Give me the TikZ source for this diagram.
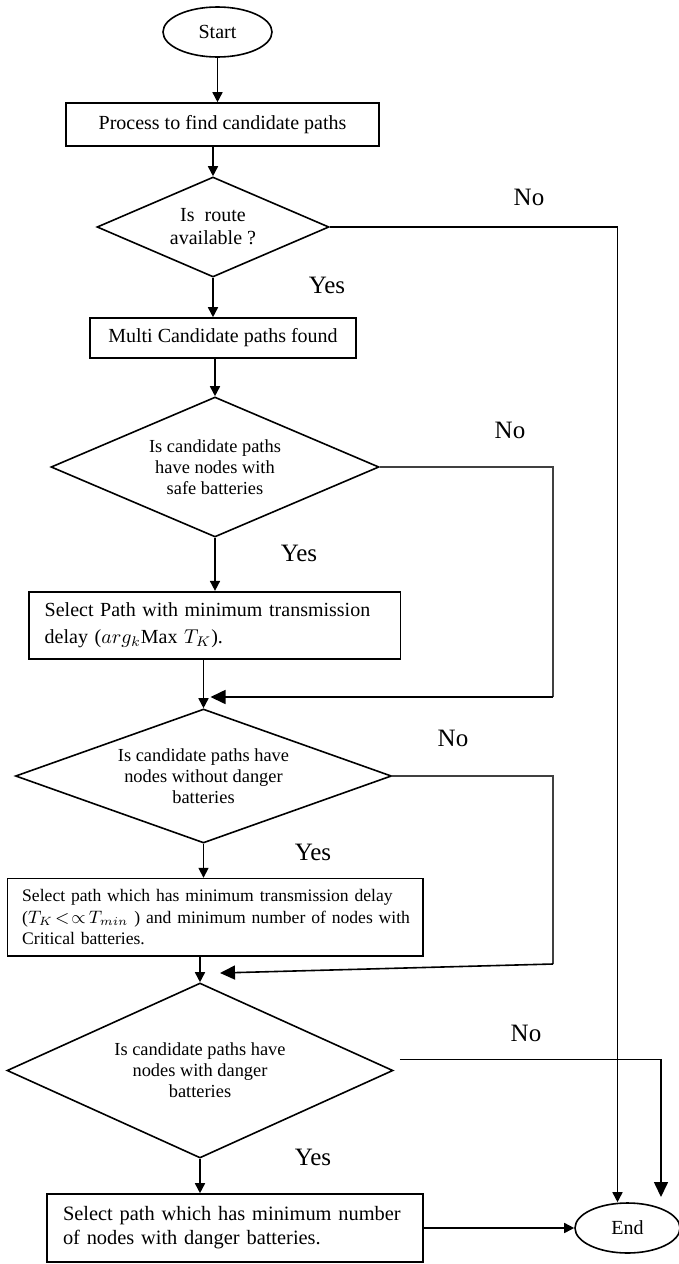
\documentclass[tikz,border=0pt]{standalone}
\usepackage{fontspec}
\setmainfont{Liberation Serif}
\usetikzlibrary{shapes.geometric,arrows.meta}

\begin{document}
\begin{tikzpicture}[
  x=0.5pt, y=-0.5pt,
  >={Triangle[length=5pt,width=5pt]},
  line width=0.8pt,
  terminal/.style={draw, ellipse, inner sep=0pt, font=\fontsize{10}{12}\selectfont},
  process/.style={draw, rectangle, inner sep=0pt, align=center, font=\fontsize{10}{12}\selectfont},
  action/.style={draw, rectangle, inner ysep=0pt, align=left},
  decision/.style={draw, diamond, aspect=2.5, inner sep=0pt, align=center, font=\fontsize{9.2}{10.5}\selectfont},
  answer/.style={font=\fontsize{12.5}{14}\selectfont},
  back/.style={line width=0.6pt, black!75},
  bigtip/.style={-{Triangle[length=7.5pt,width=7pt]}}
]
\useasboundingbox (0,0) rectangle (679,1264);

\node[terminal, minimum width=54.5pt, minimum height=25pt] (start) at (217.5,32) {Start};
\node[process, minimum width=156.5pt, minimum height=21.5pt] (find) at (222.5,124.5) {Process to find candidate paths};
\node[decision, font=\fontsize{10}{11.5}\selectfont, minimum width=116pt, minimum height=50pt] (route) at (213,227) {Is\ \ route\\available ?};
\node[process, minimum width=133pt, minimum height=20pt] (multi) at (223,338) {Multi Candidate paths found};
\node[decision, minimum width=164pt, minimum height=70pt] (safe) at (215,467) {Is candidate paths\\have nodes with\\safe batteries};
\node[action, text width=169.8pt, inner xsep=8pt, minimum height=33.5pt, font=\fontsize{10}{13.3}\selectfont] (selsafe) at (214.5,625.2)
  {Select Path with minimum transmission\\delay ($arg_k$Max $T_K$).};
\node[decision, minimum width=188pt, minimum height=67pt] (nodanger) at (203.5,776) {Is candidate paths have\\nodes without danger\\batteries};
\node[action, text width=202pt, inner xsep=2.9pt, minimum height=38.7pt, font=\fontsize{8.8}{10.8}\selectfont] (selcrit) at (215.2,917.3)
  {\hspace*{4.5pt}\mbox{Select path which has minimum transmission delay}\\\hspace*{4.5pt}\mbox{($T_K\!<\!{\propto}\,T_{min}$\ ) and minimum number of nodes with}\\\hspace*{4.5pt}Critical batteries.};
\node[decision, minimum width=193pt, minimum height=87.5pt] (danger) at (200,1070.5) {Is candidate paths have\\nodes with danger\\batteries};
\node[action, text width=172pt, inner xsep=8pt, minimum height=34pt, font=\fontsize{10.2}{12}\selectfont] (seldanger) at (235,1228)
  {Select path which has minimum number\\of nodes with danger batteries.};
\node[terminal, minimum width=52.5pt, minimum height=25pt] (finish) at (627.5,1228) {End};

% yes / no labels
\node[answer] (no1)  at (529,197)  {No};
\node[answer] (yes1) at (327,285)  {Yes};
\node[answer] (no2)  at (510,430)  {No};
\node[answer] (yes2) at (299,553)  {Yes};
\node[answer] (no3)  at (453,738)  {No};
\node[answer] (yes3) at (313,852)  {Yes};
\node[answer] (no4)  at (526,1033) {No};
\node[answer] (yes4) at (313,1157) {Yes};

% main column
\draw[->] (start.south) -- (start.south |- find.north);
\draw[->] (route.north |- find.south) -- (route.north);
\draw[->] (route.south) -- (route.south |- multi.north);
\draw[->] (safe.north |- multi.south) -- (safe.north);
\draw[->] (safe.south) -- (safe.south |- selsafe.north);
\draw[->] (nodanger.north |- selsafe.south) -- (nodanger.north);
\draw[->] (nodanger.south) -- (nodanger.south |- selcrit.north);
\draw[->] (danger.north |- selcrit.south) -- (danger.north);
\draw[->] (danger.south) -- (danger.south |- seldanger.north);
\draw[->] (seldanger.east) -- (finish.west);

% no branches
\coordinate (c1) at (553,697);
\coordinate (c2) at (553,964);
\coordinate (j2) at (220,973);
\coordinate (c4) at (661,1197);
\draw[->] (route.east) -| ([xshift=-5pt]finish.north);
\draw[back] (safe.east) -| (c1);
\draw[bigtip] (c1) -- ([xshift=3.5pt]nodanger.north |- c1);
\draw[back] (nodanger.east) -| (c2);
\draw[bigtip] (c2) -- (j2);
\draw[bigtip] ([xshift=3pt,yshift=5.5pt]danger.east) -| (c4);

\end{tikzpicture}
\end{document}
